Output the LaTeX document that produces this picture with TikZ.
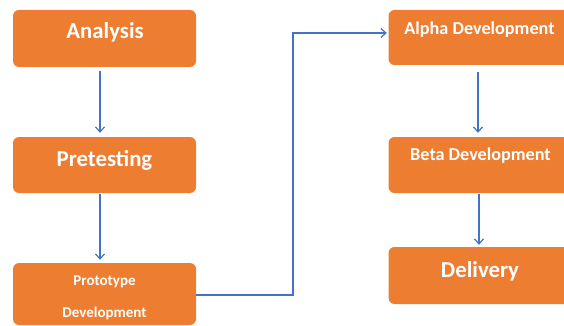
\documentclass[tikz,border=0pt]{standalone}
\usepackage{fontspec}
\setmainfont{Carlito}
\usetikzlibrary{arrows.meta}
\definecolor{boxorange}{HTML}{ED7D31}
\definecolor{arrowblue}{HTML}{4472C4}
\tikzset{
  box/.style={fill=boxorange, draw=none, rounded corners=6pt, minimum width=183pt, inner sep=0pt},
  lblbig/.style={text=white, font=\bfseries\fontsize{22.8}{26}\selectfont, anchor=base, inner sep=0pt},
  lblmid/.style={text=white, font=\bfseries\fontsize{18.2}{20}\selectfont, anchor=base, inner sep=0pt},
  lblsmall/.style={text=white, font=\bfseries\fontsize{15}{17}\selectfont, anchor=base, inner sep=0pt},
  arr/.style={draw=arrowblue, line width=1.2pt, -{Straight Barb[length=5pt,width=9pt]}}
}
\begin{document}
\begin{tikzpicture}[x=1pt,y=-1pt]
\useasboundingbox (0,0) rectangle (564,326);
\clip (0,0) rectangle (564,326);
% boxes
\node[box, minimum height=57pt] (ana) at (104.5,38.5) {};
\node[box, minimum height=56pt] (pre) at (104.5,165) {};
\node[box, minimum height=62pt] (pro) at (104.5,294) {};
\node[box, minimum height=55pt] (alp) at (480,37.5) {};
\node[box, minimum height=56pt] (bet) at (480,165) {};
\node[box, minimum height=57pt] (del) at (480,275.5) {};
% labels
\node[lblbig] (tana) at (105,39) {Analysis};
\node[lblbig] (tpre) at (104.5,166) {Pretesting};
\node[lblsmall] (tpro1) at (104.5,285) {Prototype};
\node[lblsmall] (tpro2) at (104.5,317) {Development};
\node[lblmid] (talp) at (479.5,35) {Alpha Development};
\node[lblmid] (tbet) at (480.5,160) {Beta Development};
\node[lblbig] (tdel) at (480,277) {Delivery};
% connectors
\draw[arr] ([xshift=-4.5pt,yshift=-4pt]ana.south) -- ([xshift=-4.5pt,yshift=4pt]pre.north);
\draw[arr] ([xshift=-4.5pt,yshift=-1pt]pre.south) -- ([xshift=-4.5pt,yshift=3pt]pro.north);
\draw[arr] ([xshift=-2pt,yshift=-7pt]alp.south) -- ([xshift=-2pt,yshift=4pt]bet.north);
\draw[arr] ([xshift=-1pt,yshift=-1pt]bet.south) -- ([xshift=-1pt,yshift=2pt]del.north);
\coordinate (bend) at (293,33);
\draw[arr, shorten >=1.5pt] ([yshift=-1pt]pro.east) -| (bend) -- (alp.west |- bend);
\end{tikzpicture}
\end{document}
